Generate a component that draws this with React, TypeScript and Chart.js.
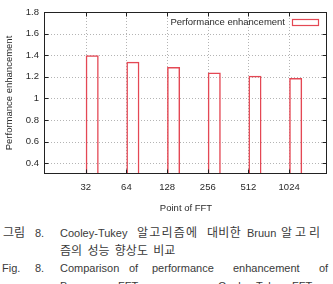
import React, { useEffect, useRef } from "react";
import { Chart, registerables } from "chart.js";

Chart.register(...registerables);

// ---- data ----
const categories = ["32", "64", "128", "256", "512", "1024"];
const enhancement = [1.4, 1.34, 1.29, 1.24, 1.21, 1.19];
const yTickValues = [0.4, 0.6, 0.8, 1, 1.2, 1.4, 1.6, 1.8];
const seriesLabel = "Performance enhancement";
const xTitle = "Point of FFT";
const yTitle = "Performance enhancement";
const yMin = 0.3;
const yMax = 1.8;
const xMin = 0;
const xMax = 6.93;

// caption lines: [text, left, letterSpacing] entries
const captionLines: { words: [string, number, number][]; center: number }[] = [
  {
    center: 233,
    words: [
      ["그림", 3, 0],
      ["8.", 35, 0],
      ["Cooley-Tukey", 60, 0],
      ["알고리즘에", 137, 1.2],
      ["대비한", 207, 0.3],
      ["Bruun", 247, 0],
      ["알고리", 281, 3],
    ],
  },
  {
    center: 250.5,
    words: [["즘의 성능 향상도 비교", 60, 0]],
  },
  {
    center: 268,
    words: [
      ["Fig.", 2, 0],
      ["8.", 35, 0],
      ["Comparison", 60, 0],
      ["of", 129, 0],
      ["performance", 152, 0],
      ["enhancement", 233, 0],
      ["of", 319, 0],
    ],
  },
  {
    center: 286,
    words: [
      ["Bruun", 60, 0],
      ["FFT", 118, 0],
      ["versus", 162, 0],
      ["Cooley-Tukey", 218, 0],
      ["FFT", 292, 0],
    ],
  },
];

const RED = "rgb(228,72,84)";
const FONT = '"Liberation Sans", Arial, sans-serif';
const TEXT = "#2a2a2a";

const framePlugin = {
  id: "gnuplotFrame",
  beforeDatasetsDraw(chart: any) {
    const { ctx, chartArea, scales } = chart;
    const { left, right, top, bottom } = chartArea;
    ctx.save();
    ctx.strokeStyle = "#b4b4b4";
    ctx.lineWidth = 1;
    ctx.setLineDash([1, 2]);
    yTickValues.forEach((v) => {
      const py = Math.round(scales.y.getPixelForValue(v)) + 0.5;
      ctx.beginPath();
      ctx.moveTo(left, py);
      ctx.lineTo(right, py);
      ctx.stroke();
    });
    categories.forEach((_, i) => {
      const px = Math.round(scales.x.getPixelForValue(i + 1)) + 0.5;
      ctx.beginPath();
      ctx.moveTo(px, top);
      ctx.lineTo(px, bottom);
      ctx.stroke();
    });
    ctx.restore();
  },
  afterDatasetsDraw(chart: any) {
    const { ctx, chartArea, scales } = chart;
    const { left, right, top, bottom } = chartArea;
    ctx.save();
    ctx.setLineDash([]);
    ctx.strokeStyle = "#222";
    ctx.lineWidth = 1;
    const L = Math.round(left) - 0.5;
    const R = Math.round(right) - 0.5;
    const T = Math.round(top) + 0.5;
    const B = Math.round(bottom) - 0.5;
    ctx.strokeRect(L, T, R - L, B - T);
    const tl = 4;
    ctx.beginPath();
    yTickValues.forEach((v) => {
      const py = Math.round(scales.y.getPixelForValue(v)) + 0.5;
      ctx.moveTo(L, py);
      ctx.lineTo(L + tl, py);
      ctx.moveTo(R, py);
      ctx.lineTo(R - tl, py);
    });
    categories.forEach((_, i) => {
      const px = Math.round(scales.x.getPixelForValue(i + 1)) + 0.5;
      ctx.moveTo(px, T);
      ctx.lineTo(px, T + tl);
      ctx.moveTo(px, B);
      ctx.lineTo(px, B - tl);
    });
    ctx.stroke();

    // legend
    ctx.font = `9.5px ${FONT}`;
    ctx.fillStyle = TEXT;
    ctx.textAlign = "right";
    ctx.textBaseline = "middle";
    ctx.fillText(seriesLabel, right - 42, top + 10.5);
    ctx.strokeStyle = RED;
    ctx.lineWidth = 1.2;
    ctx.strokeRect(right - 35 + 0.5, top + 7.5, 26, 6);

    // axis titles
    ctx.fillStyle = TEXT;
    ctx.textAlign = "center";
    ctx.textBaseline = "middle";
    ctx.fillText(xTitle, (left + right) / 2, 208);
    ctx.translate(9, (top + bottom) / 2);
    ctx.rotate(-Math.PI / 2);
    ctx.fillText(yTitle, 0, 0);
    ctx.restore();
  },
};

export default function App() {
  const canvasRef = useRef<HTMLCanvasElement>(null);

  useEffect(() => {
    const canvas = canvasRef.current;
    if (!canvas) return;
    const chart = new Chart(canvas, {
      type: "bar",
      data: {
        datasets: [
          {
            label: "_spacer",
            data: categories.map((_, i) => ({ x: i + 1, y: null })) as any,
            borderWidth: 0,
            backgroundColor: "rgba(0,0,0,0)",
          },
          {
            label: seriesLabel,
            data: categories.map((_, i) => ({ x: i + 1, y: enhancement[i] })) as any,
            borderColor: RED,
            borderWidth: 1.5,
            backgroundColor: "rgba(0,0,0,0)",
          },
        ],
      },
      options: {
        responsive: false,
        animation: false,
        maintainAspectRatio: false,
        layout: { padding: { left: 0, right: 6, top: 12, bottom: 0 } },
        datasets: { bar: { categoryPercentage: 0.64, barPercentage: 1 } } as any,
        plugins: {
          legend: { display: false },
          tooltip: { enabled: false },
          title: { display: false },
        },
        scales: {
          x: {
            type: "linear",
            min: xMin,
            max: xMax,
            offset: false,
            grid: { display: false, drawTicks: false, offset: false },
            border: { display: false },
            afterBuildTicks: (scale: any) => {
              scale.ticks = categories.map((_, i) => ({ value: i + 1 }));
            },
            afterFit: (scale: any) => {
              scale.height = 41;
            },
            ticks: {
              autoSkip: false,
              maxRotation: 0,
              padding: 8,
              color: TEXT,
              font: { family: FONT, size: 9.5 },
              callback: (_v: any, i: number) => categories[i],
            },
          },
          y: {
            min: yMin,
            max: yMax,
            grid: { display: false, drawTicks: false },
            border: { display: false },
            afterBuildTicks: (scale: any) => {
              scale.ticks = yTickValues.map((v) => ({ value: v }));
            },
            afterFit: (scale: any) => {
              scale.width = 45;
            },
            ticks: {
              padding: 6,
              color: TEXT,
              font: { family: FONT, size: 9.5 },
              callback: (v: any) => String(v),
            },
          },
        },
      },
      plugins: [framePlugin],
    });
    return () => chart.destroy();
  }, []);

  return (
    <div
      style={{
        position: "absolute",
        left: 0,
        top: 0,
        width: 333,
        height: 284,
        overflow: "hidden",
        background: "#fff",
      }}
    >
      <canvas
        ref={canvasRef}
        width={333}
        height={215}
        style={{ position: "absolute", left: 0, top: 0, width: 333, height: 215 }}
      />
      {captionLines.map((line, li) =>
        line.words.map(([w, x, ls], wi) => (
          <span
            key={`${li}-${wi}`}
            style={{
              position: "absolute",
              left: x,
              top: line.center - 8,
              height: 16,
              lineHeight: "16px",
              fontSize: /[\uac00-\ud7a3]/.test(w) ? 12 : 11,
              letterSpacing: ls,
              wordSpacing: li === 1 ? 2 : 0,
              whiteSpace: "nowrap",
              color: "#3a3a3a",
              fontFamily: '"Liberation Sans", "Noto Sans CJK KR", sans-serif',
            }}
          >
            {w}
          </span>
        ))
      )}
    </div>
  );
}
